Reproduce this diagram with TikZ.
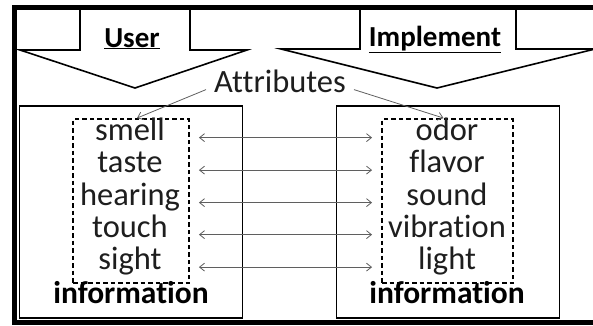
\documentclass[tikz,border=0pt]{standalone}
\usepackage{fontspec}
\setmainfont{Carlito}[Ligatures={NoCommon}]
\usepackage{xcolor}
\usetikzlibrary{arrows.meta, positioning}
\definecolor{inkgray}{RGB}{30,30,30}
\definecolor{wiregray}{RGB}{95,95,95}
\tikzset{
  word/.style={
    font=\fontsize{32.5}{38}\selectfont,
    text=inkgray,
    inner sep=0pt,
    anchor=base,
  },
  boldword/.style={
    font=\fontsize{31.5}{38}\selectfont\bfseries,
    text=black,
    inner sep=0pt,
    anchor=base,
  },
  headword/.style={
    boldword,
    font=\fontsize{29}{34}\selectfont\bfseries,
  },
  infobox/.style={
    rectangle,
    draw=black,
    line width=1.5pt,
    minimum width=223pt,
    minimum height=212pt,
  },
  sensebox/.style={
    rectangle,
    draw=black,
    line width=1.9pt,
    dash pattern=on 4.5pt off 3pt,
    minimum height=164pt,
  },
  bigarrow/.style={
    draw=black,
    line width=1.6pt,
    line join=miter
  },
  pair/.style={
    <->,
    >={Straight Barb[length=5pt,width=8pt]},
    draw=wiregray,
    line width=0.8pt
  },
  link/.style={
    ->,
    >={Straight Barb[length=5pt,width=8pt]},
    draw=wiregray,
    line width=0.8pt
  }
}

\begin{document}
\begin{tikzpicture}[x=1pt, y=-1pt]
  \useasboundingbox (0,0) rectangle (593,325);

  % Outer frame (right side cut off)
  \draw [line width=5pt] (600,7.5) -- (14.5,7.5) -- (14.5,322.5) -- (600,322.5);

  % Big down arrows
  \draw [bigarrow] (80,9) -- (80,50) -- (20,50) -- (135,88) -- (247,50)
        -- (190,50) -- (190,9);
  \draw [bigarrow] (360,9) -- (360,49) -- (281,49) -- (437,88) -- (595,49)
        -- (516,49) -- (516,9);
  \node [headword] (user) at (132,47) {\underline{User}};
  \node [headword] (impl) at (435,46) {\underline{Implement}};

  % Information boxes
  \node [infobox] (linfo) at (131,212) {};
  \node [infobox] (rinfo) at (448,212) {};
  \node [sensebox, minimum width=116pt] (lsense) at (131,201) {};
  \node [sensebox, minimum width=131pt] (rsense) at (447.5,201) {};

  % User side
  \node [word] (smell)   at (130,140)   {smell};
  \node [word] (taste)   at (130,172.5) {taste};
  \node [word] (hearing) at (130,205)   {hearing};
  \node [word] (touch)   at (130,237)   {touch};
  \node [word] (sight)   at (130,269.5) {sight};
  \node [boldword] (linfotext) at (131,303) {information};

  % Implement side
  \node [word] (odor)      at (447,140)   {odor};
  \node [word] (flavor)    at (447,172.5) {flavor};
  \node [word] (sound)     at (447,205)   {sound};
  \node [word] (vibration) at (447,237)   {vibration};
  \node [word] (light)     at (447,269.5) {light};
  \node [boldword] (rinfotext) at (447,303) {information};

  % Attributes
  \node [word, inner xsep=8pt] (attr) at (280,92) {Attributes};
  \draw [link] (attr.mid west) -- ([xshift=6pt]lsense.north);
  \draw [link] (attr.mid east) -- ([xshift=-4pt]rsense.north);

  % Pairs
  \draw [pair] ([xshift=9pt]smell.mid -| lsense.east)   -- ([xshift=-9pt]odor.mid -| rsense.west);
  \draw [pair] ([xshift=9pt]taste.mid -| lsense.east)   -- ([xshift=-9pt]flavor.mid -| rsense.west);
  \draw [pair] ([xshift=9pt]hearing.mid -| lsense.east) -- ([xshift=-9pt]sound.mid -| rsense.west);
  \draw [pair] ([xshift=9pt]touch.mid -| lsense.east)   -- ([xshift=-9pt]vibration.mid -| rsense.west);
  \draw [pair] ([xshift=9pt]sight.mid -| lsense.east)   -- ([xshift=-9pt]light.mid -| rsense.west);
\end{tikzpicture}
\end{document}
